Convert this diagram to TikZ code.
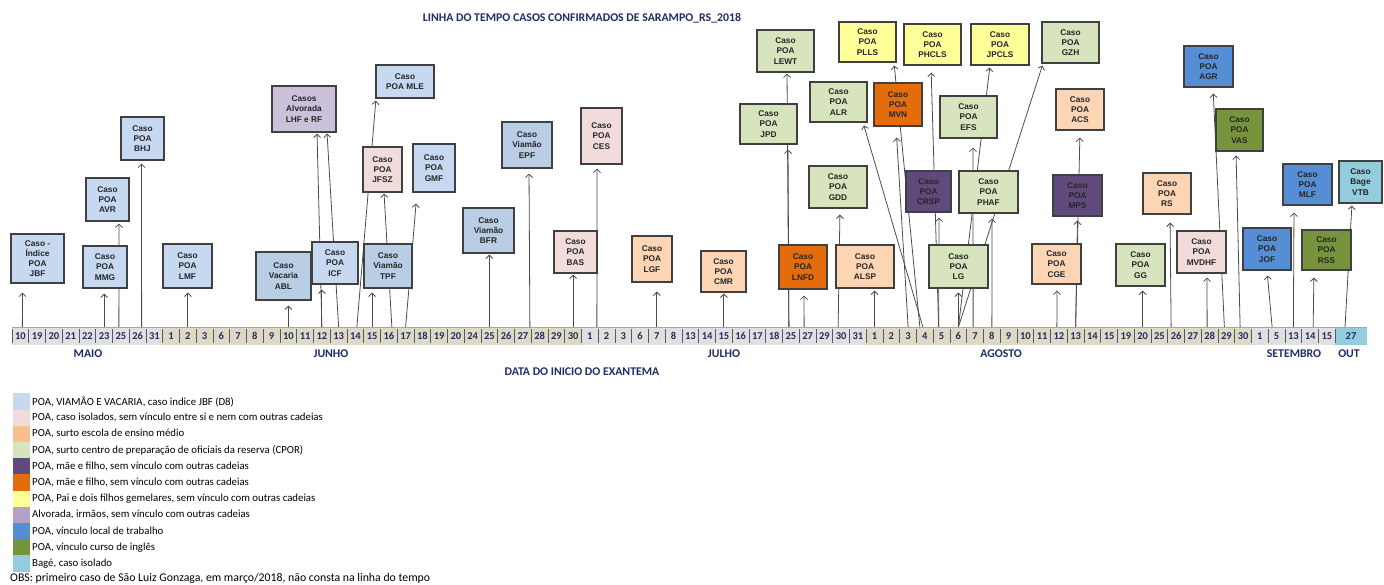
\documentclass[tikz,border=0pt]{standalone}
\usepackage{fontspec}
\setmainfont{Carlito}
\newfontfamily\arialfam{Liberation Sans}
\usetikzlibrary{arrows.meta,backgrounds,positioning}

\definecolor{navy}{RGB}{31,45,100}
\definecolor{cazul}{HTML}{C6D9F1}
\definecolor{cazulesc}{HTML}{B9CDE5}
\definecolor{crosa}{HTML}{F2DCDB}
\definecolor{cpessego}{HTML}{FCD5B5}
\definecolor{cpessegoleg}{HTML}{FABF8F}
\definecolor{cverde}{HTML}{D7E4BD}
\definecolor{croxo}{HTML}{604A7B}
\definecolor{claranja}{HTML}{E46C0A}
\definecolor{camarelo}{HTML}{FFFF99}
\definecolor{clilas}{HTML}{CCC1DA}
\definecolor{clilasleg}{HTML}{B3A2C7}
\definecolor{cazulforte}{HTML}{558ED5}
\definecolor{coliva}{HTML}{77933C}
\definecolor{cciano}{HTML}{93CDDD}
\definecolor{ccinza}{HTML}{E0E0E0}
\definecolor{cbege}{HTML}{DDD9C4}

\tikzset{
	caso/.style={draw=black!75, line width=1.1pt, align=center, inner sep=1pt, text=black!85, font=\arialfam\bfseries\fontsize{8.3}{10.2}\selectfont},
	dia/.style={minimum width=16.75pt, minimum height=18pt, inner sep=0pt, outer sep=0pt, text=navy, font=\bfseries\fontsize{10.5}{10.5}\selectfont},
	mes/.style={text=navy, inner sep=0pt, font=\bfseries\fontsize{11.8}{12}\selectfont},
	seta/.style={->, black!70, line width=0.8pt},
	amostra/.style={minimum width=17.5pt, minimum height=16.2pt, inner sep=0pt, outer sep=0pt},
	legtexto/.style={anchor=west, inner sep=0pt, font=\fontsize{10.8}{11}\selectfont},
}

\begin{document}
\begin{tikzpicture}[x=1pt, y=-1pt, >={Straight Barb[length=3.5pt,width=7pt]}]
			\useasboundingbox (0,0) rectangle (1384,585);
			\node[mes] (titulo) at (582,18) {LINHA DO TEMPO CASOS CONFIRMADOS DE SARAMPO\_RS\_2018};
			%% eixo das datas
			\foreach \dd [count=\k] in {10,19,20,21,22,23,25,26,31}
				\node[dia, fill=ccinza] (d\k) at ({12+16.75*(\k-0.5)},336) {\dd};
			\foreach \dd [count=\k from 10] in {1,2,3,6,7,8,9,10,11,12,13,14,15,16,17,18,19,20,24,25,26,27,28,29,30}
				\node[dia, fill=cbege] (d\k) at ({12+16.75*(\k-0.5)},336) {\dd};
			\foreach \dd [count=\k from 35] in {1,2,3,6,7,8,13,14,15,16,17,18,25,27,29,30,31}
				\node[dia, fill=ccinza] (d\k) at ({12+16.75*(\k-0.5)},336) {\dd};
			\foreach \dd [count=\k from 52] in {1,2,3,4,5,6,7,8,9,10,11,12,13,14,15,19,20,25,26,27,28,29,30}
				\node[dia, fill=cbege] (d\k) at ({12+16.75*(\k-0.5)},336) {\dd};
			\foreach \dd [count=\k from 75] in {1,5,13,14,15}
				\node[dia, fill=ccinza] (d\k) at ({12+16.75*(\k-0.5)},336) {\dd};
			\node[dia, fill=cciano, minimum width=32pt] (d80) at (1351,336) {27};
			\draw[black!35, line width=0.8pt] (d1.north west) -- (d80.north east);
			\draw[black!65, line width=0.6pt] ([yshift=-2pt]d1.north west) -- ([yshift=2pt]d1.south west);
			\foreach \k in {1,...,79}
				\draw[black!65, line width=0.6pt] ([yshift=-2pt]d\k.north east) -- ([yshift=2pt]d\k.south east);
			%%
			\node[mes] (maio) at (88,354) {MAIO};
			\node[mes] (junho) at (331,354) {JUNHO};
			\node[mes] (julho) at (724,354) {JULHO};
			\node[mes] (agosto) at (1001,354) {AGOSTO};
			\node[mes] (setembro) at (1294,354) {SETEMBRO};
			\node[mes] (outubro) at (1349,354) {OUT};
			\node[mes] (eixo) at (582,372) {DATA DO INICIO DO EXANTEMA};
			%% casos maio / junho
			\node[caso, fill=cazul, minimum width=53pt, minimum height=49pt] (jbf) at (37.5,258.5) {Caso -\\Índice\\POA\\JBF};
			\node[caso, fill=cazul, minimum width=44pt, minimum height=42pt] (mmg) at (105,267) {Caso\\POA\\MMG};
			\node[caso, fill=cazul, minimum width=43pt, minimum height=43pt] (avr) at (107.5,199.5) {Caso\\POA\\AVR};
			\node[caso, fill=cazul, minimum width=43pt, minimum height=43pt] (bhj) at (142.5,138.5) {Caso\\POA\\BHJ};
			\node[caso, fill=cazul, minimum width=49pt, minimum height=44pt] (lmf) at (187.5,266) {Caso\\POA\\LMF};
			\node[caso, fill=cazulesc, minimum width=55pt, minimum height=48pt] (abl) at (283.5,276) {Caso\\Vacaria\\ABL};
			\node[caso, fill=cazul, minimum width=46pt, minimum height=42pt] (icf) at (335,263) {Caso\\POA\\ICF};
			\node[caso, fill=cazulesc, minimum width=48pt, minimum height=44pt] (tpf) at (388,266) {Caso\\Viamão\\TPF};
			\node[caso, fill=crosa, minimum width=39pt, minimum height=45pt] (jfsz) at (382.5,169.5) {Caso\\POA\\JFSZ};
			\node[caso, fill=cazul, minimum width=42pt, minimum height=48pt] (gmf) at (434,168) {Caso\\POA\\GMF};
			\node[caso, fill=clilas, minimum width=64pt, minimum height=46pt] (alv) at (304,109) {Casos\\Alvorada\\LHF e RF};
			\node[caso, fill=cazul, minimum width=58pt, minimum height=33pt] (mle) at (405,81.5) {Caso\\POA MLE};
			\node[caso, fill=cazulesc, minimum width=51pt, minimum height=45pt] (bfr) at (488.5,230.5) {Caso\\Viamão\\BFR};
			\node[caso, fill=cazulesc, minimum width=50pt, minimum height=46pt] (epf) at (527,145) {Caso\\Viamão\\EPF};
			\node[caso, fill=crosa, minimum width=41pt, minimum height=56pt] (ces) at (601.5,136) {Caso\\POA\\CES};
			\node[caso, fill=crosa, minimum width=43pt, minimum height=42pt] (bas) at (575.5,252) {Caso\\POA\\BAS};
			%% casos julho
			\node[caso, fill=cpessego, minimum width=40pt, minimum height=46pt] (lgf) at (652,259) {Caso\\POA\\LGF};
			\node[caso, fill=cpessego, minimum width=45pt, minimum height=41pt] (cmr) at (723.5,271.5) {Caso\\POA\\CMR};
			\node[caso, fill=cverde, minimum width=57pt, minimum height=40pt] (jpd) at (768.5,124) {Caso\\POA\\JPD};
			\node[caso, fill=cverde, minimum width=57pt, minimum height=42pt] (lewt) at (785.5,51) {Caso\\POA\\LEWT};
			\node[caso, fill=claranja, minimum width=48pt, minimum height=44pt] (lnfd) at (803,267) {Caso\\POA\\LNFD};
			\node[caso, fill=cverde, minimum width=58pt, minimum height=42pt] (gdd) at (838,187) {Caso\\POA\\GDD};
			%% casos agosto
			\node[caso, fill=cpessego, minimum width=58pt, minimum height=43pt] (alsp) at (865,266.5) {Caso\\POA\\ALSP};
			\node[caso, fill=camarelo, minimum width=57pt, minimum height=40pt] (plls) at (867.5,42) {Caso\\POA\\PLLS};
			\node[caso, fill=camarelo, minimum width=57pt, minimum height=41pt] (phcls) at (932.5,44.5) {Caso\\POA\\PHCLS};
			\node[caso, fill=camarelo, minimum width=58pt, minimum height=41pt] (jpcls) at (1000,44.5) {Caso\\POA\\JPCLS};
			\node[caso, fill=cverde, minimum width=57pt, minimum height=41pt] (gzh) at (1070.5,42.5) {Caso\\POA\\GZH};
			\node[caso, fill=cverde, minimum width=57pt, minimum height=40pt] (alr) at (838.5,102) {Caso\\POA\\ALR};
			\node[caso, fill=claranja, minimum width=48pt, minimum height=43pt] (mvn) at (898,104.5) {Caso\\POA\\MVN};
			\node[caso, fill=cverde, minimum width=57pt, minimum height=42pt] (efs) at (968.5,117) {Caso\\POA\\EFS};
			\node[caso, fill=croxo, minimum width=45pt, minimum height=41pt] (crsp) at (928.5,191.5) {Caso\\POA\\CRSP};
			\node[caso, fill=cverde, minimum width=59pt, minimum height=42pt] (phaf) at (988.5,192) {Caso\\POA\\PHAF};
			\node[caso, fill=cverde, minimum width=59pt, minimum height=43pt] (lg) at (958.5,266.5) {Caso\\POA\\LG};
			\node[caso, fill=cpessego, minimum width=48pt, minimum height=41pt] (acs) at (1080,109.5) {Caso\\POA\\ACS};
			\node[caso, fill=croxo, minimum width=49pt, minimum height=41pt] (mps) at (1077.5,195.5) {Caso\\POA\\MPS};
			\node[caso, fill=cpessego, minimum width=49pt, minimum height=40pt] (cge) at (1056.5,264) {Caso\\POA\\CGE};
			\node[caso, fill=cverde, minimum width=49pt, minimum height=42pt] (gg) at (1140.5,265) {Caso\\POA\\GG};
			\node[caso, fill=cpessego, minimum width=48pt, minimum height=41pt] (rs) at (1167,193.5) {Caso\\POA\\RS};
			\node[caso, fill=crosa, minimum width=49pt, minimum height=42pt] (mvdhf) at (1201.5,252) {Caso\\POA\\MVDHF};
			\node[caso, fill=cazulforte, minimum width=49pt, minimum height=41pt] (agr) at (1208.5,66.5) {Caso\\POA\\AGR};
			\node[caso, fill=coliva, minimum width=47pt, minimum height=42pt] (vas) at (1239.5,130) {Caso\\POA\\VAS};
			%% casos setembro / outubro
			\node[caso, fill=cazulforte, minimum width=48pt, minimum height=42pt] (jof) at (1267,249) {Caso\\POA\\JOF};
			\node[caso, fill=cazulforte, minimum width=49pt, minimum height=41pt] (mlf) at (1307.5,184.5) {Caso\\POA\\MLF};
			\node[caso, fill=coliva, minimum width=49pt, minimum height=40pt] (rss) at (1326.5,250) {Caso\\POA\\RSS};
			\node[caso, fill=cciano, minimum width=43pt, minimum height=42pt] (vtb) at (1360.5,182) {Caso\\Bage\\VTB};
			%% setas (atras das caixas)
			\begin{scope}[on background layer]
			\draw[seta, shorten >=9pt] ([xshift=2pt]d1.north) -- ([xshift=-15pt]jbf.south);
			\draw[seta, shorten >=5pt] (d6.north) -- (d6.north |- mmg.south);
			\draw[seta, shorten >=2pt] ([xshift=-2pt]d7.north) -- ([xshift=11.5pt]avr.south);
			\draw[seta, shorten >=3pt] ([xshift=4pt]d8.north) -- ([xshift=-1pt]bhj.south);
			\draw[seta, shorten >=4pt] (d11.north) -- (d11.north |- lmf.south);
			\draw[seta, shorten >=5pt] (d17.north) -- (d17.north |- abl.south);
			\draw[seta, shorten >=5pt] (d19.north) -- (d19.north |- icf.south);
			\draw[seta, shorten >=1pt] (d19.north) -- ([xshift=13pt]alv.south);
			\draw[seta, shorten >=1pt] (d20.north) -- ([xshift=23pt]alv.south);
			\draw[seta, shorten >=2pt] ([xshift=1.5pt]d21.north) -- ([xshift=-29pt]mle.south);
			\draw[seta, shorten >=4pt] (d22.north) -- (d22.north |- tpf.south);
			\draw[seta, shorten >=1pt] ([xshift=3pt]d23.north) -- ([xshift=1.5pt]jfsz.south);
			\draw[seta, shorten >=11pt] (d24.north) -- ([xshift=-17pt]gmf.south);
			\draw[seta, shorten >=1pt] (d29.north) -- (d29.north |- bfr.south);
			\draw[seta, shorten >=5pt] ([xshift=7pt]d31.north) -- ([xshift=2pt]epf.south);
			\draw[seta, shorten >=1pt] (d34.north) -- (d34.north |- bas.south);
			\draw[seta, shorten >=4pt] ([xshift=7pt]d35.north) -- ([xshift=-4.5pt]ces.south);
			%%
			\draw[seta, shorten >=9pt] (d39.north) -- (d39.north |- lgf.south);
			\draw[seta, shorten >=1pt] (d43.north) -- (d43.north |- cmr.south);
			\draw[seta, shorten >=5pt] ([xshift=-2pt]d47.north) -- ([xshift=19.5pt]jpd.south);
			\draw[seta, shorten >=1pt] ([xshift=-2pt]d47.north) -- ([xshift=1.5pt]lewt.south);
			\draw[seta, shorten >=6pt] ([xshift=-3.5pt]d48.north) -- ([xshift=1pt]lnfd.south);
			\draw[seta, shorten >=6pt] ([xshift=-3pt]d50.north) -- ([xshift=2pt]gdd.south);
			%%
			\draw[seta, shorten >=2pt] (d52.north) -- (d52.north |- alsp.south);
			\draw[seta, shorten >=11pt] (d54.north) -- ([xshift=-2pt]mvn.south);
			\draw[seta, shorten >=3pt] ([xshift=-5pt]d55.north) -- ([xshift=26.5pt]plls.south);
			\draw[seta, shorten >=3pt] ([xshift=-2pt]d55.north) -- ([xshift=24.5pt]alr.south);
			\draw[seta, shorten >=5pt] ([xshift=-3pt]d56.north) -- ([xshift=10.5pt]crsp.south);
			\draw[seta, shorten >=7pt] ([xshift=-3pt]d56.north) -- ([xshift=-1.5pt]phcls.south);
			\draw[seta, shorten >=4pt] (d57.north) -- (d57.north |- lg.south);
			\draw[seta, shorten >=2pt] (d57.north) -- ([xshift=-10pt]jpcls.south);
			\draw[seta, shorten >=2pt] (d57.north) -- ([xshift=-27.5pt]gzh.south);
			\draw[seta, shorten >=9pt] ([xshift=-2pt]d58.north) -- ([xshift=4.5pt]efs.south);
			\draw[seta, shorten >=5pt] (d59.north) -- ([xshift=3.5pt]phaf.south);
			\draw[seta, shorten >=6pt] ([xshift=-2pt]d63.north) -- ([xshift=0.5pt]cge.south);
			\draw[seta, shorten >=4pt] (d64.north) -- (mps.south);
			\draw[seta, shorten >=7pt] (d64.north) -- (acs.south);
			\draw[seta, shorten >=4pt] (d68.north) -- (d68.north |- gg.south);
			\draw[seta, shorten >=8pt] ([xshift=-5pt]d70.north) -- ([xshift=3pt]rs.south);
			\draw[seta, shorten >=4pt] ([xshift=-2.5pt]d72.north) -- ([xshift=5.5pt]mvdhf.south);
			\draw[seta, shorten >=6pt] ([xshift=-2pt]d73.north) -- ([xshift=4.5pt]agr.south);
			\draw[seta, shorten >=4pt] ([xshift=-3pt]d74.north) -- ([xshift=-3.5pt]vas.south);
			%%
			\draw[seta, shorten >=5pt] ([xshift=-4.5pt]d76.north) -- (jof.south);
			\draw[seta, shorten >=7pt] (d77.north) -- ([xshift=-13.5pt]mlf.south);
			\draw[seta, shorten >=7pt] ([xshift=3pt]d78.north) -- ([xshift=-12.5pt]rss.south);
			\draw[seta, shorten >=2pt] ([xshift=-6pt]d80.north) -- ([xshift=-8.5pt]vtb.south);
			\end{scope}
			%% legenda
			\node[amostra, fill=cazul] (s1) at (21.25,401.5) {};
			\node[amostra, fill=crosa] (s2) at (21.25,417.7) {};
			\node[amostra, fill=cpessegoleg] (s3) at (21.25,433.9) {};
			\node[amostra, fill=cverde] (s4) at (21.25,450.1) {};
			\node[amostra, fill=croxo] (s5) at (21.25,466.3) {};
			\node[amostra, fill=claranja] (s6) at (21.25,482.5) {};
			\node[amostra, fill=camarelo] (s7) at (21.25,498.7) {};
			\node[amostra, fill=clilasleg] (s8) at (21.25,514.9) {};
			\node[amostra, fill=cazulforte] (s9) at (21.25,531.1) {};
			\node[amostra, fill=coliva] (s10) at (21.25,547.3) {};
			\node[amostra, fill=cciano] (s11) at (21.25,563.5) {};
			\node[legtexto, right=2pt of s1] (l1) {POA, VIAMÃO E VACARIA, caso indice JBF (D8)};
			\node[legtexto, right=2pt of s2] (l2) {POA, caso isolados, sem vínculo entre si e nem com outras cadeias};
			\node[legtexto, right=2pt of s3] (l3) {POA, surto escola de ensino médio};
			\node[legtexto, right=2pt of s4] (l4) {POA, surto centro de preparação de oficiais da reserva (CPOR)};
			\node[legtexto, right=2pt of s5] (l5) {POA, mãe e filho, sem vínculo com outras cadeias};
			\node[legtexto, right=2pt of s6] (l6) {POA, mãe e filho, sem vínculo com outras cadeias};
			\node[legtexto, right=2pt of s7] (l7) {POA, Pai e dois filhos gemelares, sem vínculo com outras cadeias};
			\node[legtexto, right=2pt of s8] (l8) {Alvorada, irmãos, sem vínculo com outras cadeias};
			\node[legtexto, right=2pt of s9] (l9) {POA, vínculo local de trabalho};
			\node[legtexto, right=2pt of s10] (l10) {POA, vínculo curso de inglês};
			\node[legtexto, right=2pt of s11] (l11) {Bagé, caso isolado};
			\node[legtexto, font=\fontsize{11.8}{12}\selectfont] (obs) at (10,578) {OBS: primeiro caso de São Luiz Gonzaga, em março/2018, não consta na linha do tempo};
\end{tikzpicture}
\end{document}
